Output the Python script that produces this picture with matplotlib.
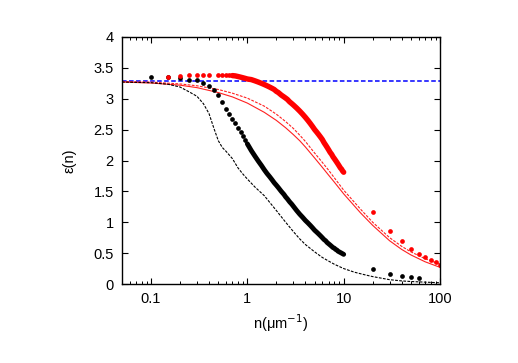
import numpy as np
import matplotlib
matplotlib.use("Agg")
import matplotlib.pyplot as plt
from matplotlib.ticker import LogLocator, FixedLocator, NullFormatter

plt.rcParams['font.family'] = ['Liberation Sans', 'DejaVu Sans']

# ---- data ----
# black dots (measured)
black_n = [0.1, 0.15, 0.2, 0.25, 0.3, 0.35, 0.4, 0.45, 0.5, 0.55, 0.6, 0.65, 0.7, 0.75,
           0.8, 0.85, 0.9, 0.95, 1.0, 1.1, 1.2, 1.3, 1.4, 1.5, 1.6, 1.7, 1.8, 1.9, 2.0,
           2.1, 2.25, 2.4, 2.5, 2.6, 2.75, 2.9, 3.0, 3.25, 3.5, 3.75, 4.0, 4.25, 4.5, 4.75,
           5.0, 5.25, 5.5, 5.75, 6.0, 6.25, 6.5, 6.75, 7.0, 7.25, 7.5, 7.75, 8.0, 8.25,
           8.5, 8.75, 9.0, 9.25, 9.5, 9.75, 10.0,
           20, 30, 40, 50, 60]
black_eps = [3.35, 3.35, 3.33, 3.31, 3.31, 3.26, 3.21, 3.14, 3.06, 2.95, 2.84, 2.76, 2.68, 2.60,
             2.53, 2.46, 2.39, 2.33, 2.27, 2.16, 2.07, 1.99, 1.92, 1.85, 1.79, 1.74, 1.69, 1.64, 1.60,
             1.56, 1.50, 1.45, 1.41, 1.38, 1.33, 1.29, 1.26, 1.19, 1.13, 1.08, 1.03, 0.99, 0.95, 0.91,
             0.87, 0.84, 0.81, 0.78, 0.75, 0.72, 0.70, 0.67, 0.65, 0.63, 0.61, 0.59, 0.58, 0.56,
             0.55, 0.53, 0.52, 0.51, 0.50, 0.49, 0.48,
             0.25, 0.17, 0.13, 0.11, 0.09]

# red dots (simulated)
red_n = [0.15, 0.2, 0.25, 0.3, 0.35, 0.4, 0.5, 0.55, 0.6, 0.65, 0.7, 0.75, 0.8, 0.85, 0.9,
         0.95, 1.0, 1.1, 1.2, 1.3, 1.4, 1.5, 1.6, 1.7, 1.8, 1.9, 2.0, 2.1, 2.25, 2.4, 2.5,
         2.6, 2.75, 2.9, 3.0, 3.25, 3.5, 3.75, 4.0, 4.25, 4.5, 4.75, 5.0, 5.25, 5.5, 5.75,
         6.0, 6.25, 6.5, 6.75, 7.0, 7.25, 7.5, 7.75, 8.0, 8.25, 8.5, 8.75, 9.0, 9.25, 9.5,
         9.75, 10.0,
         20, 30, 40, 50, 60, 70, 80, 90, 100]
red_eps = [3.35, 3.37, 3.38, 3.38, 3.385, 3.385, 3.385, 3.385, 3.38, 3.38, 3.375, 3.37, 3.36, 3.35, 3.34,
           3.33, 3.32, 3.31, 3.29, 3.27, 3.25, 3.23, 3.21, 3.19, 3.17, 3.15, 3.12, 3.10, 3.06, 3.03, 3.01,
           2.99, 2.95, 2.92, 2.90, 2.85, 2.80, 2.75, 2.70, 2.65, 2.60, 2.55, 2.50, 2.46, 2.42, 2.38,
           2.34, 2.29, 2.25, 2.21, 2.17, 2.13, 2.10, 2.06, 2.03, 2.00, 1.97, 1.94, 1.91, 1.88, 1.86,
           1.83, 1.81,
           1.165, 0.86, 0.69, 0.57, 0.49, 0.43, 0.385, 0.35, 0.315]

# black dashed curve
bdash_n = [0.05, 0.07, 0.1, 0.15, 0.2, 0.25, 0.3, 0.35, 0.4, 0.45, 0.5, 0.55, 0.6, 0.7, 0.8,
           0.9, 1.0, 1.2, 1.5, 2.0, 2.5, 3.0, 3.5, 4.0, 5.0, 6.0, 7.0, 8.0, 10, 13, 17, 20,
           30, 40, 50, 70, 100]
bdash_eps = [3.27, 3.265, 3.26, 3.235, 3.19, 3.11, 3.04, 2.92, 2.76, 2.52, 2.32, 2.21, 2.15, 2.03, 1.88,
             1.78, 1.70, 1.57, 1.43, 1.19, 1.00, 0.85, 0.73, 0.64, 0.52, 0.43, 0.37, 0.32, 0.25, 0.19, 0.145, 0.12,
             0.07, 0.05, 0.04, 0.03, 0.02]

# red dashed curve
rdash_n = [0.05, 0.1, 0.2, 0.3, 0.5, 0.7, 1.0, 1.5, 2.0, 2.5, 3.0, 3.5, 4.0, 5.0, 6.0, 7.0, 8.0, 10.0,
           15, 20, 30, 40, 50, 70, 100]
rdash_eps = [3.28, 3.27, 3.24, 3.21, 3.15, 3.09, 3.01, 2.88, 2.75, 2.63, 2.52, 2.41, 2.31, 2.12, 1.97, 1.84,
             1.72, 1.52, 1.21, 1.00, 0.75, 0.61, 0.52, 0.41, 0.32]

# red solid curve
rsol_n = [0.05, 0.1, 0.2, 0.3, 0.5, 0.7, 1.0, 1.5, 2.0, 2.5, 3.0, 3.5, 4.0, 5.0, 6.0, 7.0, 8.0, 10.0,
          15, 20, 30, 40, 50, 70, 100]
rsol_eps = [3.27, 3.255, 3.22, 3.18, 3.10, 3.03, 2.93, 2.78, 2.65, 2.53, 2.42, 2.32, 2.22, 2.04, 1.89, 1.76,
            1.65, 1.46, 1.15, 0.95, 0.70, 0.56, 0.47, 0.36, 0.27]

# blue reference line
blue_n = [0.05, 100]
blue_eps = [3.29, 3.29]

x_ticks = [0.1, 1, 10, 100]
x_ticklabels = ['0.1', '1', '10', '100']
y_ticks = [0, 0.5, 1, 1.5, 2, 2.5, 3, 3.5, 4]
y_ticklabels = ['0', '0.5', '1', '1.5', '2', '2.5', '3', '3.5', '4']

# ---- figure ----
fig = plt.figure(figsize=(5.18, 3.63), dpi=100)
ax = fig.add_axes([122/518, 1-284/363, (440-122)/518, (284-37)/363])

ax.plot(blue_n, blue_eps, color='#0000ff', lw=1.1, ls=(0, (3, 1.6)))
ax.plot(rdash_n, rdash_eps, color='#ff2020', lw=0.8, ls=(0, (2.5, 1.2)))
ax.plot(rsol_n, rsol_eps, color='#ff2020', lw=0.8)
ax.plot(bdash_n, bdash_eps, color='black', lw=0.8, ls=(0, (2.5, 1.2)))

ms = 3.4
# dense parts of the dot series merge into a continuous band
bn = np.array(black_n); be = np.array(black_eps)
rn = np.array(red_n); re_ = np.array(red_eps)
mb = (bn >= 1.0) & (bn <= 10)
mr = (rn >= 0.7) & (rn <= 10)
ax.plot(bn[mb], be[mb], '-', color='black', lw=3.5, solid_capstyle='round', solid_joinstyle='round')
ax.plot(bn[~mb], be[~mb], 'o', color='black', ms=ms, mew=0)
ax.plot(rn[mr], re_[mr], '-', color='#ff0000', lw=3.9, solid_capstyle='round', solid_joinstyle='round')
ax.plot(rn[~mr], re_[~mr], 'o', color='#ff0000', ms=ms, mew=0)

ax.set_xscale('log')
ax.set_xlim(0.05, 100)
ax.set_ylim(0, 4)
ax.xaxis.set_major_locator(FixedLocator(x_ticks))
ax.set_xticklabels(x_ticklabels)
ax.xaxis.set_minor_locator(LogLocator(base=10, subs=np.arange(2, 10)))
ax.xaxis.set_minor_formatter(NullFormatter())
ax.set_yticks(y_ticks)
ax.set_yticklabels(y_ticklabels)

ax.tick_params(which='both', direction='in', top=True, right=True, labelsize=10.5, pad=6)
ax.tick_params(which='major', length=4, width=0.8)
ax.tick_params(which='minor', length=2.2, width=0.7)
for s in ax.spines.values():
    s.set_linewidth(1.0)

ax.set_xlabel('n(μm$^{-1}$)', fontsize=10.5, labelpad=4)
ax.set_ylabel('ε(n)', fontsize=10.5, labelpad=12)

fig.savefig('out.png', dpi=100)
